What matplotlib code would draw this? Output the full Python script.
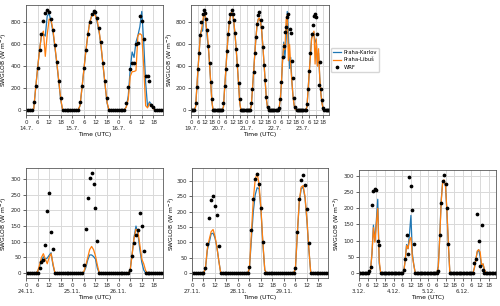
import matplotlib
matplotlib.use('Agg')
import matplotlib.pyplot as plt
import numpy as np

# ---- data: hourly SWGLOB (W m-2), daytime chunks per day, zero at night ----
# top-left: 14.7.-16.7.
tl_dates = ['14.7.', '15.7.', '16.7.']
tl_start = [4, 28, 52]
tl_wrf = [[72, 220, 388, 550, 695, 809, 884, 914, 893, 833, 728, 598, 436, 268, 111],
          [69, 220, 382, 547, 692, 806, 875, 908, 893, 842, 746, 622, 427, 268, 108],
          [63, 208, 373, 433, 427, 607, 613, 854, 812, 652, 313, 307, 268, 42, 27]]
tl_libus = [[10, 200, 380, 545, 680, 720, 490, 690, 830, 820, 730, 580, 430, 265, 100],
            [40, 200, 370, 535, 680, 800, 855, 880, 860, 810, 710, 570, 400, 230, 70],
            [30, 96, 307, 350, 352, 360, 680, 698, 683, 400, 40, 20, 60, 36, 12]]
tl_karlov = [[10, 200, 380, 545, 680, 695, 675, 860, 880, 810, 710, 570, 420, 255, 90],
             [40, 200, 370, 535, 680, 800, 860, 885, 880, 790, 700, 560, 395, 225, 65],
             [30, 130, 370, 530, 480, 620, 680, 760, 900, 620, 250, 30, 75, 50, 20]]

# top-middle: 19.7.-23.7.
tm_dates = ['19.7.', '20.7.', '21.7.', '22.7.', '23.7.']
tm_start = [4, 28, 52, 76, 100]
tm_wrf = [[63, 210, 373, 523, 683, 803, 878, 914, 884, 827, 728, 586, 427, 259, 102],
          [63, 215, 373, 540, 690, 800, 880, 910, 880, 820, 700, 560, 410, 250, 100],
          [66, 195, 350, 517, 667, 788, 863, 893, 818, 758, 577, 412, 277, 120, 27],
          [20, 105, 260, 480, 580, 710, 760, 850, 880, 740, 700, 450, 290, 110, 25],
          [57, 192, 358, 520, 690, 780, 855, 880, 848, 692, 230, 440, 190, 96, 20]]
tm_libus = [[30, 200, 370, 520, 680, 730, 800, 880, 880, 770, 710, 590, 420, 250, 80],
            [30, 200, 360, 530, 680, 790, 860, 890, 870, 800, 690, 550, 400, 240, 70],
            [40, 190, 350, 510, 660, 780, 830, 840, 800, 720, 580, 420, 260, 100, 20],
            [15, 100, 250, 460, 600, 550, 820, 870, 450, 600, 400, 260, 120, 40, 5],
            [30, 190, 350, 500, 650, 680, 720, 420, 650, 400, 560, 300, 150, 60, 10]]
tm_karlov = [[30, 200, 370, 520, 690, 730, 720, 850, 900, 780, 660, 560, 420, 250, 80],
             [30, 200, 360, 530, 680, 790, 860, 890, 880, 790, 690, 550, 400, 240, 70],
             [40, 190, 350, 510, 660, 780, 830, 830, 810, 720, 580, 420, 260, 100, 20],
             [15, 100, 250, 460, 620, 480, 640, 900, 700, 380, 480, 260, 120, 40, 5],
             [30, 190, 350, 500, 660, 700, 710, 620, 640, 420, 520, 300, 150, 60, 10]]

# bottom-left: 24.11.-26.11.
bl_dates = ['24.11.', '25.11.', '26.11.']
bl_wrf_start = [7, 30, 54]
bl_wrf = [[16, 37, 42, 91, 197, 255, 131, 78],
          [26, 141, 240, 302, 318, 284, 209, 102],
          [11, 55, 97, 121, 139, 193, 149, 69]]
bl_obs_start = [6, 30, 54]
bl_libus = [[5, 25, 50, 62, 45, 30, 50, 62, 30],
            [5, 25, 50, 75, 85, 75, 55, 25],
            [10, 60, 110, 140, 135, 90, 45, 30, 8]]
bl_karlov = [[5, 20, 40, 52, 45, 48, 57, 65, 25],
             [3, 18, 42, 58, 58, 53, 45, 15],
             [10, 60, 115, 150, 125, 75, 35, 10]]

# bottom-middle: 27.11.-29.11.
bm_dates = ['27.11.', '28.11.', '29.11.']
bm_start = [7, 30, 54]
bm_wrf = [[16, 95, 180, 239, 252, 220, 188, 87],
          [19, 139, 241, 306, 322, 290, 213, 102],
          [16, 135, 241, 303, 319, 287, 210, 99]]
bm_libus = [[15, 80, 110, 135, 142, 120, 85, 40],
            [15, 130, 240, 305, 325, 290, 210, 100, 10],
            [15, 130, 235, 280, 285, 250, 175, 80]]
bm_karlov = [[12, 75, 100, 128, 130, 115, 85, 40],
             [15, 110, 200, 255, 278, 275, 205, 95, 10],
             [15, 128, 230, 275, 280, 245, 170, 78]]

# bottom-right: 3.12.-6.12.
br_dates = ['3.12.', '4.12.', '5.12.', '6.12.']
br_wrf_start = [7, 31, 55, 80]
br_wrf = [[5, 18, 210, 253, 261, 257, 100, 86],
          [8, 43, 116, 58, 296, 268, 195, 90],
          [5, 116, 218, 286, 303, 275, 200, 90],
          [30, 43, 181, 100, 23, 148, 8]]
br_obs_start = [8, 31, 55, 80]
br_libus = [[10, 60, 140, 95, 150, 200, 40],
            [3, 38, 85, 75, 100, 110, 50, 25],
            [20, 110, 220, 280, 288, 270, 190, 90],
            [15, 40, 68, 72, 65, 25, 28, 10]]
br_karlov = [[10, 60, 148, 100, 160, 228, 30],
             [3, 38, 88, 75, 120, 178, 60, 25],
             [20, 115, 225, 282, 285, 268, 185, 85],
             [15, 42, 65, 72, 50, 20, 28, 8]]


def series(n, starts, chunks):
    s = np.zeros(n)
    for st, ch in zip(starts, chunks):
        s[st:st + len(ch)] = ch
    return s


FS = 4.0
plt.rcParams['font.size'] = FS

fig = plt.figure(figsize=(5.0, 3.06), dpi=100)


def panel(rect, dates, wrf, wrf_start, karlov, libus, obs_start, ylab_x):
    n = 24 * len(dates)
    h = np.arange(n)
    ax = fig.add_axes(rect)
    ax.plot(h, series(n, obs_start, karlov), color='#1f77b4', lw=0.9, label='Praha-Karlov')
    ax.plot(h, series(n, obs_start, libus), color='#ff7f0e', lw=0.9, label='Praha-Libuš')
    ax.plot(h, series(n, wrf_start, wrf), 'o', color='k', ms=1.7, label='WRF')
    ticks = list(range(0, n, 6))
    labels = ['0\n' + dates[t // 24] if t % 24 == 0 else str(t % 24) for t in ticks]
    ax.set_xticks(ticks)
    ax.set_xticklabels(labels)
    ax.set_xlim(0, n - 1)
    ax.grid(True, color='#d9d9d9', lw=0.7)
    ax.set_axisbelow(True)
    for sp in ax.spines.values():
        sp.set_color('0.35')
        sp.set_linewidth(0.6)
    ax.tick_params(labelsize=FS, length=2, width=0.5, pad=1.5, colors='0.15')
    ax.set_xlabel('Time (UTC)', fontsize=4.3, labelpad=1)
    ax.set_ylabel('SWGLOB (W m$^{-2}$)', fontsize=4.3)
    ax.yaxis.set_label_coords(ylab_x, 0.5)
    return ax


panel([0.052, 0.624, 0.274, 0.360], tl_dates, tl_wrf, tl_start, tl_karlov, tl_libus, tl_start, -0.122)
ax2 = panel([0.382, 0.624, 0.276, 0.360], tm_dates, tm_wrf, tm_start, tm_karlov, tm_libus, tm_start, -0.115)
panel([0.052, 0.091, 0.274, 0.359], bl_dates, bl_wrf, bl_wrf_start, bl_karlov, bl_libus, bl_obs_start, -0.122)
panel([0.384, 0.091, 0.272, 0.359], bm_dates, bm_wrf, bm_start, bm_karlov, bm_libus, bm_start, -0.11)
panel([0.718, 0.092, 0.274, 0.352], br_dates, br_wrf, br_wrf_start, br_karlov, br_libus, br_obs_start, -0.122)

ax2.legend(loc='center left', bbox_to_anchor=(1.0, 0.5), fontsize=3.8,
           handlelength=1.6, borderpad=0.4, labelspacing=0.5, handletextpad=0.5,
           borderaxespad=0.3)

fig.savefig('out.png', dpi=100)
